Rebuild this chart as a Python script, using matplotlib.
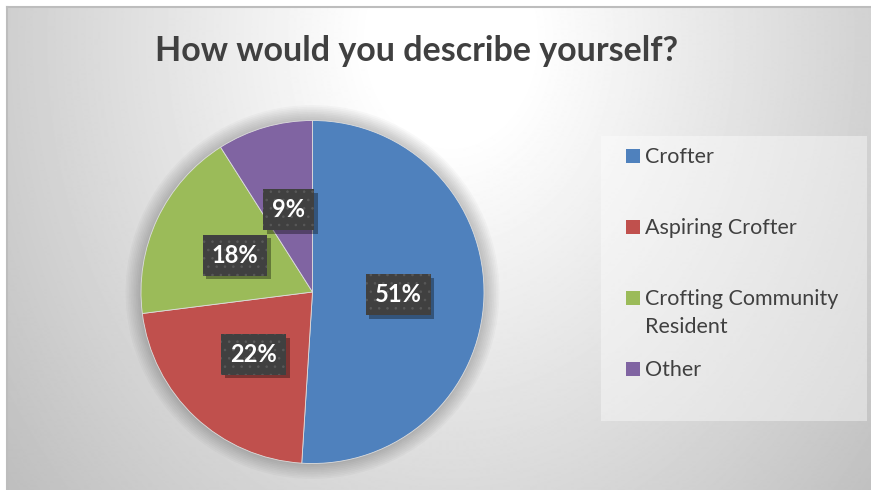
import numpy as np
import matplotlib.pyplot as plt
from matplotlib.patches import Circle, Rectangle
import matplotlib.patheffects as pe

# survey answers
categories = ['Crofter', 'Aspiring Crofter', 'Crofting Community\nResident', 'Other']
shares = [51, 22, 18, 9]
colors = ['#4F81BD', '#C0504D', '#9BBB59', '#8064A2']
title = 'How would you describe yourself?'

W, H = 871, 490
plt.rcParams['font.family'] = ['Lato', 'DejaVu Sans']
plt.rcParams['hatch.linewidth'] = 0.6


class BoxShadow(pe.SimplePatchShadow):
    # plain shadow, without the hatch dots of the box
    def draw_path(self, renderer, gc, tpath, affine, rgbFace):
        gc0 = renderer.new_gc()
        gc0.copy_properties(gc)
        gc0.set_hatch(None)
        super().draw_path(renderer, gc0, tpath, affine, rgbFace)


fig = plt.figure(figsize=(W / 100, H / 100), dpi=100)
fig.patch.set_facecolor('white')

# background: radial grey gradient, white up near the title
bg = fig.add_axes([0, 0, 1, 1])
bg.set_xlim(0, W)
bg.set_ylim(H, 0)
bg.axis('off')
yy, xx = np.mgrid[7:H, 7:W]
d = np.hypot(xx - 450, (yy - 40) * 0.8)
v = 1 - 0.27 * np.clip((d - 80) / 520, 0, 1)
bg.imshow(v, cmap='gray', vmin=0, vmax=1, extent=(7, W, H, 7),
          interpolation='bilinear', aspect='auto')
bg.plot([7, W], [7, 7], color='#bdbdbd', lw=1.5)
bg.plot([7, 7], [7, H], color='#bdbdbd', lw=1.5)

fig.text(417 / W, 1 - 61 / H, title, ha='center', va='baseline',
         fontsize=24.5, fontweight='bold', color='#404040')

# pie
cx, cy, r = 312.5, 292, 171.5
ax = fig.add_axes([(cx - r) / W, (H - cy - r) / H, 2 * r / W, 2 * r / H])

# soft halo under the pie
for k in range(1, 10):
    ax.add_patch(Circle((0, 0), 1 + 0.01 * k, fc='black', alpha=0.025,
                        ec='none', clip_on=False, zorder=0))

wedges, _, pcts = ax.pie(shares, colors=colors, startangle=90, counterclock=False,
                         radius=1, autopct='%.0f%%', pctdistance=0.5,
                         wedgeprops=dict(edgecolor='#dddddd', linewidth=0.6),
                         textprops=dict(color='white', fontsize=17, fontweight='bold'))
ax.set_xlim(-1, 1)
ax.set_ylim(-1, 1)
ax.axis('off')
for w in wedges:
    w.set_clip_on(False)
    w.set_zorder(2)
for t in pcts:
    t.set_zorder(5)
    t.set_bbox(dict(boxstyle='square,pad=0.38', fc='#404040', ec='#595959',
                    lw=0, hatch='..'))
    t.get_bbox_patch().set_path_effects([
        BoxShadow(offset=(2.5, -2.5), shadow_rgbFace='black', alpha=0.35),
        pe.Normal()])

# legend panel
lg = fig.add_axes([601 / W, 1 - 421 / H, 266 / W, 285 / H])
lg.set_xlim(0, 266)
lg.set_ylim(285, 0)
lg.axis('off')
lg.add_patch(Rectangle((0, 0), 266, 285, fc='white', alpha=0.4, ec='none'))
for i, (name, c) in enumerate(zip(categories, colors)):
    y = 20 + 71 * i
    lg.add_patch(Rectangle((25, y - 7), 14, 14, fc=c, ec='none'))
    lg.text(44, y - 9, name, va='top', ha='left', fontsize=15.5,
            color='#404040', linespacing=1.5)

fig.savefig('out.png', dpi=100)
